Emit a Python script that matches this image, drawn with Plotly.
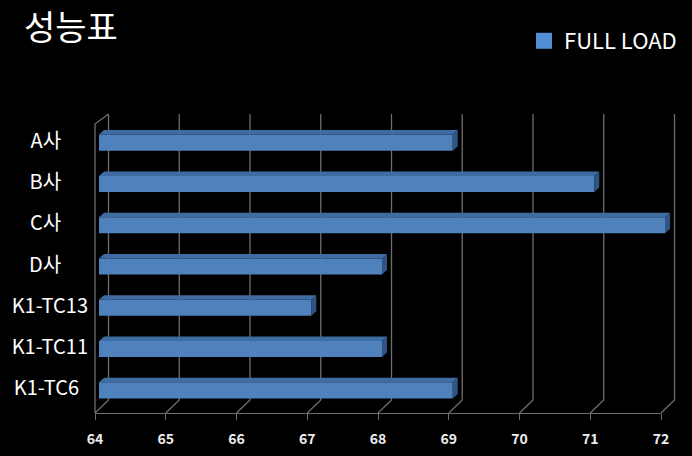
import plotly.graph_objects as go

categories = ["A사", "B사", "C사", "D사", "K1-TC13", "K1-TC11", "K1-TC6"]
full_load = [69, 71, 72, 68, 67, 68, 69]
x_ticks = [64, 65, 66, 67, 68, 69, 70, 71, 72]
series_name = "FULL LOAD"
title_text = "성능표"

W, H = 692, 456
L, R, T, B = 95, 661, 124, 413      # front plane of the plot box, px
XMIN, XMAX = x_ticks[0], x_ticks[-1]
PX_X = (R - L) / (XMAX - XMIN)
PX_Y = (B - T) / len(categories)
FONT = "Noto Sans CJK KR"
NBSP = "\u00a0"

ypos = list(range(len(categories)))
pad = [6, 6, 6, 6, 0, 0, 2]
ticktext = [c + NBSP * n for c, n in zip(categories, pad)]

bottom = len(categories) - 0.5
# full-page axes that share the scale of the tick axes, so 3D faces are not clipped
page_x = [XMIN - L / PX_X, XMAX + (W - R) / PX_X]
page_y = [bottom + (H - B) / PX_Y, -0.5 - T / PX_Y]

# back wall depth offsets in data units
wall_dx, wall_dy = 13.5 / PX_X, 13 / PX_Y
wall_top = -0.5 - 10 / PX_Y

grid_x, grid_y = [], []
for t in x_ticks:
    grid_x += [t, t + wall_dx, t + wall_dx, None]
    grid_y += [bottom, bottom - wall_dy, wall_top, None]
# left wall
grid_x += [XMIN, XMIN, XMIN + wall_dx]
grid_y += [bottom, -0.5, wall_top]

BARGAP = 0.61
half = (1 - BARGAP) / 2
depth_x, depth_y = 5 / PX_X, 4.5 / PX_Y

top_x, top_y, side_x, side_y = [], [], [], []
for y, v in zip(ypos, full_load):
    top_x += [XMIN, v, v + depth_x, XMIN + depth_x, XMIN, None]
    top_y += [y - half, y - half, y - half - depth_y, y - half - depth_y, y - half, None]
    side_x += [v, v + depth_x, v + depth_x, v, v, None]
    side_y += [y - half, y - half - depth_y, y + half - depth_y, y + half, y - half, None]

fig = go.Figure()
fig.add_trace(go.Scatter(x=grid_x, y=grid_y, mode="lines", xaxis="x", yaxis="y", showlegend=False,
                         hoverinfo="skip", line=dict(color="#6e6e6e", width=1.3)))
# legend key: a larger square than plotly's own bar swatch; also anchors the tick axes
fig.add_trace(go.Scatter(x=[None], y=[None], mode="markers", name=series_name, xaxis="x2", yaxis="y2",
                         marker=dict(symbol="square", size=16, color="#558ED5")))
fig.add_trace(go.Scatter(x=top_x, y=top_y, mode="lines", fill="toself", fillcolor="#3F6CA3", xaxis="x3", yaxis="y3",
                         showlegend=False, hoverinfo="skip", line=dict(width=0)))
fig.add_trace(go.Scatter(x=side_x, y=side_y, mode="lines", fill="toself", fillcolor="#2F5585", xaxis="x3", yaxis="y3",
                         showlegend=False, hoverinfo="skip", line=dict(width=0)))
fig.add_trace(go.Bar(x=[v - XMIN for v in full_load], base=XMIN, y=ypos, orientation="h", name=series_name,
                     xaxis="x3", yaxis="y3", showlegend=False, marker=dict(color="#4F81BD", line=dict(width=0))))

dx, dy = 4 / PX_X, 2 / PX_Y      # bars sit inside the depth of the box
hidden = dict(domain=[0, 1], visible=False, fixedrange=True)
fig.update_layout(
    width=W, height=H, margin=dict(l=0, r=0, t=0, b=0, autoexpand=False),
    paper_bgcolor="#000000", plot_bgcolor="rgba(0,0,0,0)",
    font=dict(family=FONT, color="#ffffff"),
    bargap=BARGAP,
    xaxis=dict(range=page_x, anchor="y", **hidden),
    yaxis=dict(range=page_y, anchor="x", **hidden),
    xaxis2=dict(domain=[L / W, R / W], range=[XMIN, XMAX], anchor="y2", tickmode="array", tickvals=x_ticks,
                showgrid=False, zeroline=False, showline=True, linecolor="#6e6e6e", linewidth=1.3,
                ticks="outside", ticklen=6, tickcolor="#6e6e6e", tickwidth=1.3,
                tickfont=dict(size=14, color="#eeeeee", family=FONT, weight=700),
                ticklabelstandoff=7),
    yaxis2=dict(domain=[(H - B) / H, (H - T) / H], range=[bottom, -0.5], anchor="x2",
                tickmode="array", tickvals=ypos, ticktext=ticktext, showgrid=False, zeroline=False, showline=False,
                ticks="", tickfont=dict(size=20, color="#ffffff"), ticklabelstandoff=6, ticklabelshift=4),
    xaxis3=dict(range=[page_x[0] - dx, page_x[1] - dx], anchor="y3", **hidden),
    yaxis3=dict(range=[page_y[0] + dy, page_y[1] + dy], anchor="x3", **hidden),
    legend=dict(x=682 / W, xanchor="right", y=1 - 41 / H, yanchor="middle", bgcolor="rgba(0,0,0,0)",
                itemsizing="trace", font=dict(size=22, color="#ffffff")),
    showlegend=True,
    annotations=[dict(text=title_text, xref="paper", yref="paper", x=23 / W, xanchor="left", y=1, yanchor="top",
                      showarrow=False, borderpad=0, font=dict(size=34, color="#ffffff"))],
)
fig.write_html("out.html", config={"displayModeBar": False},
               post_script="document.body.style.margin='0';document.body.style.background='#000';")
